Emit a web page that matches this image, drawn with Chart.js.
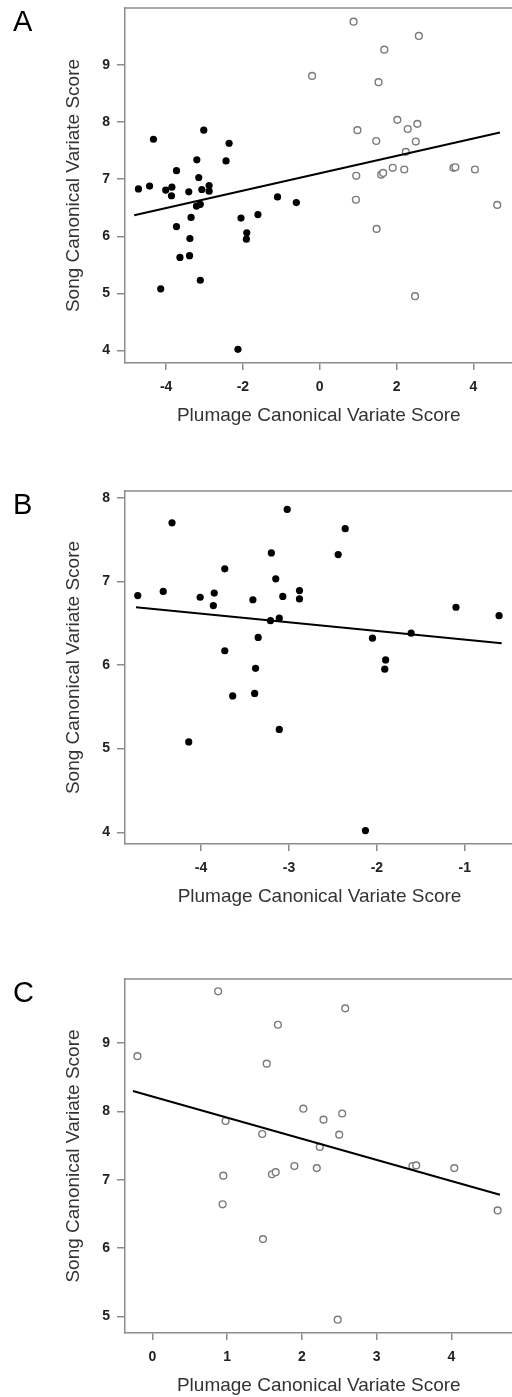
<!DOCTYPE html>
<html lang="en">
<head>
    <meta charset="UTF-8">
    <title>Song vs plumage canonical variate scores</title>
    <script src="https://cdn.jsdelivr.net/npm/chart.js"></script>
    <style>
        html, body {
            margin: 0;
            padding: 0;
            overflow: hidden;
            background: #fff;
        }
        .panel {
            position: absolute;
            left: 0;
        }
    </style>
</head>
<body>
    <div class="panel" style="top:0px"><canvas id="chartA" width="518" height="433"></canvas></div>
    <div class="panel" style="top:460px"><canvas id="chartB" width="518" height="454"></canvas></div>
    <div class="panel" style="top:940px"><canvas id="chartC" width="518" height="463"></canvas></div>
    <script>
        // dark (filled) group
        const darkX = [-4.72, -4.43, -4.33, -4.01, -3.85, -3.86, -3.73, -3.73, -3.41, -3.35, -3.38, -3.20, -3.15, -3.07, -3.21, -3.11,
                       -3.02, -2.88, -2.88, -2.44, -2.36, -2.05, -1.90, -1.91, -1.61, -1.10, -0.61, -3.64, -3.39, -3.11, -4.14, -2.13];
        const darkY = [6.83, 6.88, 7.70, 6.81, 6.86, 6.71, 7.15, 6.17, 6.78, 6.33, 5.96, 7.34, 7.03, 6.82, 6.53, 6.56,
                       7.86, 6.89, 6.79, 7.32, 7.63, 6.32, 6.06, 5.95, 6.38, 6.69, 6.59, 5.63, 5.66, 5.23, 5.08, 4.02];

        // light (open) group
        const lightX = [-0.20, 0.88, 1.68, 2.58, 1.53, 2.02, 2.54, 2.29, 0.98, 1.47, 2.50, 2.24,
                        0.95, 0.94, 1.60, 1.65, 1.90, 2.20, 3.48, 3.53, 4.04, 4.62, 1.48, 2.48];
        const lightY = [8.81, 9.76, 9.27, 9.51, 8.70, 8.04, 7.97, 7.88, 7.86, 7.67, 7.66, 7.48,
                        7.06, 6.64, 7.08, 7.11, 7.20, 7.17, 7.20, 7.21, 7.17, 6.55, 6.13, 4.95];

        // fitted lines (start, end)
        const fitA = [[-4.83, 6.37], [4.69, 7.82]];
        const fitB = [[-4.74, 6.69], [-0.58, 6.26]];
        const fitC = [[-0.26, 8.30], [4.65, 6.78]];

        // ticks
        const xTicksA = [-4, -2, 0, 2, 4];
        const yTicksA = [4, 5, 6, 7, 8, 9];
        const xTicksB = [-4, -3, -2, -1];
        const yTicksB = [4, 5, 6, 7, 8];
        const xTicksC = [0, 1, 2, 3, 4];
        const yTicksC = [5, 6, 7, 8, 9];

        const FONT = "'Liberation Sans', Arial, sans-serif";
        const AXIS_GRAY = '#8c8c8c';

        const toPts = (xs, ys) => xs.map((x, i) => ({ x: x, y: ys[i] }));

        // top frame line + panel letter
        const framePlugin = {
            id: 'frame',
            afterDraw(chart, args, opts) {
                const { ctx, chartArea } = chart;
                ctx.save();
                ctx.strokeStyle = AXIS_GRAY;
                ctx.lineWidth = 1.5;
                ctx.beginPath();
                ctx.moveTo(chartArea.left, chartArea.top);
                ctx.lineTo(chartArea.right, chartArea.top);
                ctx.stroke();
                ctx.fillStyle = '#000';
                ctx.font = '29px ' + FONT;
                ctx.textBaseline = 'middle';
                ctx.fillText(opts.letter, 13, chartArea.top + 15);
                ctx.restore();
            }
        };

        function darkSet(pts) {
            return {
                data: pts,
                pointRadius: 3.6,
                pointBackgroundColor: '#000',
                pointBorderWidth: 0,
                showLine: false
            };
        }

        function lightSet(pts) {
            return {
                data: pts,
                pointRadius: 3.4,
                pointBackgroundColor: '#fff',
                pointBorderColor: '#7a7a7a',
                pointBorderWidth: 1.4,
                showLine: false
            };
        }

        function lineSet(fit) {
            return {
                data: fit.map(p => ({ x: p[0], y: p[1] })),
                showLine: true,
                borderColor: '#000',
                borderWidth: 2,
                pointRadius: 0,
                order: -1
            };
        }

        function makeChart(id, letter, datasets, xr, yr, xTicks, yTicks, padTop) {
            const ctx = document.getElementById(id).getContext('2d');
            return new Chart(ctx, {
                type: 'scatter',
                data: { datasets: datasets },
                options: {
                    responsive: false,
                    animation: false,
                    layout: { padding: { top: padTop, left: 0, right: 0, bottom: 0 } },
                    plugins: {
                        legend: { display: false },
                        tooltip: { enabled: false },
                        frame: { letter: letter }
                    },
                    scales: {
                        x: {
                            type: 'linear',
                            min: xr[0],
                            max: xr[1],
                            afterBuildTicks: s => { s.ticks = xTicks.map(v => ({ value: v })); },
                            afterFit: s => { s.height = 70; s.paddingLeft = 0; s.paddingRight = 0; },
                            grid: { drawOnChartArea: false, drawTicks: true, tickLength: 7, color: AXIS_GRAY, lineWidth: 1.5 },
                            border: { display: true, color: AXIS_GRAY, width: 1.5 },
                            ticks: { padding: 9, color: '#222', font: { family: FONT, size: 14, weight: 'bold' } },
                            title: {
                                display: true,
                                text: 'Plumage Canonical Variate Score',
                                color: '#333',
                                font: { family: FONT, size: 19 },
                                padding: { top: 0, bottom: 6 }
                            }
                        },
                        y: {
                            type: 'linear',
                            min: yr[0],
                            max: yr[1],
                            afterBuildTicks: s => { s.ticks = yTicks.map(v => ({ value: v })); },
                            afterFit: s => { s.width = 125; s.paddingTop = 0; s.paddingBottom = 0; },
                            grid: { drawOnChartArea: false, drawTicks: true, tickLength: 8, color: AXIS_GRAY, lineWidth: 1.5 },
                            border: { display: true, color: AXIS_GRAY, width: 1.5 },
                            ticks: { padding: 7, color: '#222', font: { family: FONT, size: 14, weight: 'bold' } },
                            title: {
                                display: true,
                                text: 'Song Canonical Variate Score',
                                color: '#333',
                                font: { family: FONT, size: 19 },
                                padding: { top: 62, bottom: 0 }
                            }
                        }
                    }
                },
                plugins: [framePlugin]
            });
        }

        makeChart('chartA', 'A',
            [darkSet(toPts(darkX, darkY)), lightSet(toPts(lightX, lightY)), lineSet(fitA)],
            [-5.07, 5.02], [3.78, 10.0], xTicksA, yTicksA, 8);

        makeChart('chartB', 'B',
            [darkSet(toPts(darkX, darkY)), lineSet(fitB)],
            [-4.865, -0.44], [3.86, 8.08], xTicksB, yTicksB, 31);

        makeChart('chartC', 'C',
            [lightSet(toPts(lightX, lightY)), lineSet(fitC)],
            [-0.366, 4.82], [4.755, 9.94], xTicksC, yTicksC, 39);
    </script>
</body>
</html>
